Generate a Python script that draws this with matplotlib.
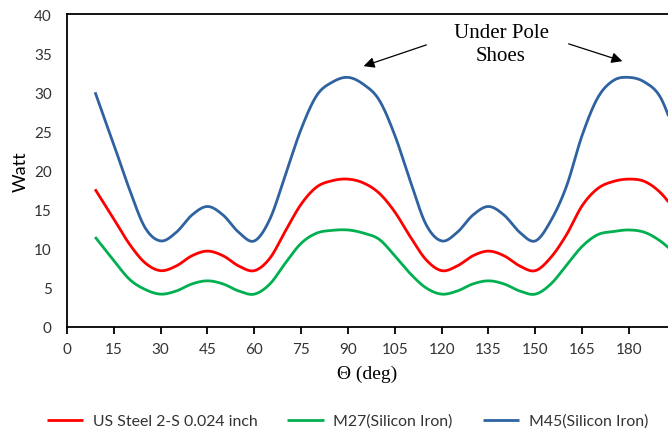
import numpy as np
import matplotlib
matplotlib.use("Agg")
import matplotlib.pyplot as plt

# ---- data ----
theta = [9, 15, 20, 25, 30, 35, 40, 45, 50, 55, 60, 65, 70, 75, 80, 85, 90,
         95, 100, 105, 110, 115, 120, 125, 130, 135, 140, 145, 150, 155, 160,
         165, 170, 175, 180, 185, 190, 195]
us_steel = [17.6, 13.8, 10.6, 8.2, 7.2, 7.8, 9.1, 9.7, 9.1, 7.8, 7.2, 8.8, 12.3, 15.7,
            17.9, 18.7, 18.9, 18.4, 17.1, 14.7, 11.5, 8.6, 7.2, 7.8, 9.1, 9.7, 9.1,
            7.8, 7.2, 8.9, 11.8, 15.5, 17.7, 18.6, 18.9, 18.6, 17.2, 14.8]
m27 = [11.5, 8.5, 6.1, 4.8, 4.2, 4.6, 5.5, 5.9, 5.5, 4.6, 4.2, 5.5, 8.2, 10.7,
       12.0, 12.35, 12.4, 12.0, 11.2, 9.1, 6.8, 5.0, 4.2, 4.6, 5.5, 5.9, 5.5,
       4.6, 4.2, 5.5, 7.9, 10.3, 11.8, 12.2, 12.4, 12.1, 11.0, 9.3]
m45 = [30.0, 23.3, 17.6, 12.7, 11.0, 12.1, 14.3, 15.4, 14.3, 12.1, 11.0, 13.8, 19.5, 25.3,
       29.6, 31.3, 31.9, 31.0, 29.0, 24.5, 18.6, 13.1, 11.0, 12.1, 14.3, 15.4, 14.3,
       12.1, 11.0, 13.6, 18.0, 24.5, 29.3, 31.5, 31.9, 31.3, 29.4, 24.5]
series_labels = ["US Steel 2-S 0.024 inch", "M27(Silicon Iron)", "M45(Silicon Iron)"]
colors = ["#FF0000", "#00B050", "#2E62A0"]
xticks = list(range(0, 181, 15))
yticks = list(range(0, 41, 5))


def catmull_rom(x, y, n=30):
    x = np.asarray(x, float)
    y = np.asarray(y, float)
    px = np.concatenate([[2 * x[0] - x[1]], x, [2 * x[-1] - x[-2]]])
    py = np.concatenate([[2 * y[0] - y[1]], y, [2 * y[-1] - y[-2]]])
    ox, oy = [], []
    t = np.linspace(0, 1, n, endpoint=False)
    for i in range(1, len(px) - 2):
        for arr, out in ((px, ox), (py, oy)):
            p0, p1, p2, p3 = arr[i - 1], arr[i], arr[i + 1], arr[i + 2]
            out.append(0.5 * ((2 * p1) + (-p0 + p2) * t
                              + (2 * p0 - 5 * p1 + 4 * p2 - p3) * t ** 2
                              + (-p0 + 3 * p1 - 3 * p2 + p3) * t ** 3))
    ox.append([x[-1]])
    oy.append([y[-1]])
    return np.concatenate(ox), np.concatenate(oy)


fig = plt.figure(figsize=(6.68, 4.35), dpi=100)
ax = fig.add_axes([0.1003, 0.246, 0.8997, 0.7195])

for ys, lab, c in zip([us_steel, m27, m45], series_labels, colors):
    sx, sy = catmull_rom(theta, ys)
    ax.plot(sx, sy, color=c, lw=2.0, label=lab, solid_capstyle="butt")

ax.set_xlim(0, 192.5)
ax.set_ylim(0, 40)
ax.set_xticks(xticks)
ax.set_yticks(yticks)
ax.spines["right"].set_visible(False)
for s in ["left", "bottom", "top"]:
    ax.spines[s].set_linewidth(1.3)
    ax.spines[s].set_color("black")
ax.tick_params(axis="x", direction="out", length=5, width=1.3, pad=6,
               labelsize=11, labelcolor="#333333")
ax.tick_params(axis="y", length=0, pad=11, labelsize=11, labelcolor="#333333")
for lab in ax.get_xticklabels() + ax.get_yticklabels():
    lab.set_fontfamily("Lato")

ax.set_ylabel("Watt", fontsize=13, family="Lato", labelpad=4)
ax.set_xlabel("\u0398 (deg)", fontsize=14, family="Liberation Serif", labelpad=6)

ax.text(501 / 668, 1 - 45 / 435, "Under Pole\nShoes", transform=fig.transFigure, ha="center",
        va="center", fontsize=15, family="Liberation Serif", linespacing=1.22)
ax.annotate("", xy=(361 / 668, 1 - 68 / 435), xytext=(429 / 668, 1 - 45 / 435),
            xycoords="figure fraction", textcoords="figure fraction",
            arrowprops=dict(arrowstyle="-|>", color="black", lw=0.9, mutation_scale=16))
ax.annotate("", xy=(625 / 668, 1 - 63 / 435), xytext=(566 / 668, 1 - 44 / 435),
            xycoords="figure fraction", textcoords="figure fraction",
            arrowprops=dict(arrowstyle="-|>", color="black", lw=0.9, mutation_scale=16))

leg = fig.legend(loc="center", bbox_to_anchor=(0.52, 1 - 422 / 435), ncol=3, frameon=False,
                 prop={"family": "Lato", "size": 11.4}, handlelength=2.3, columnspacing=1.9,
                 handletextpad=0.6)
for t in leg.get_texts():
    t.set_color("#333333")

fig.savefig("out.png", dpi=100)
